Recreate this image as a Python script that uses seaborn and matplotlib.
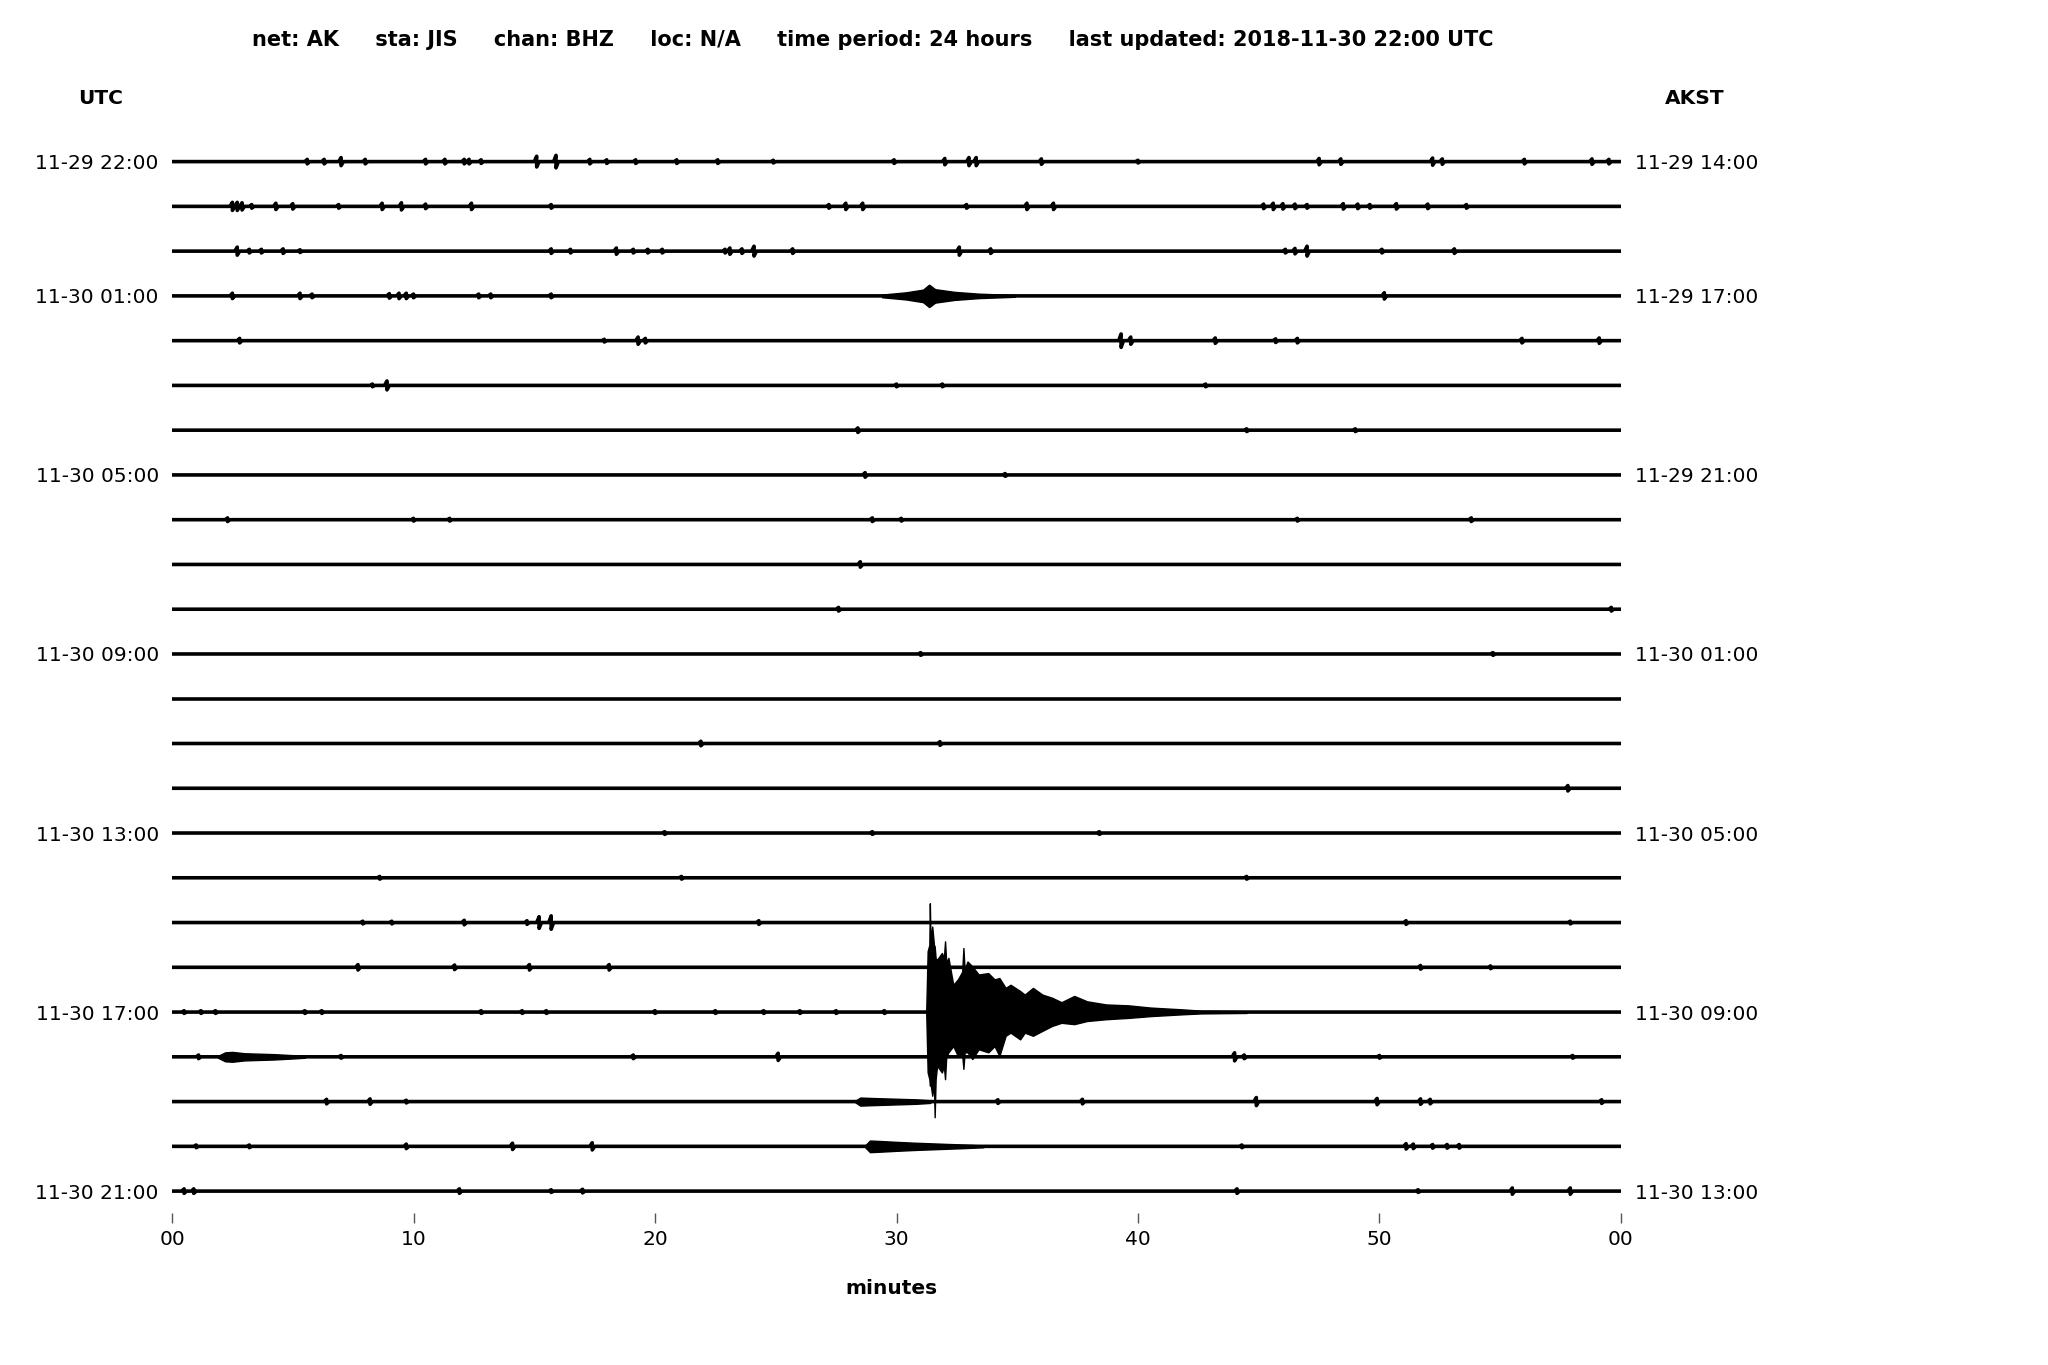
import matplotlib
matplotlib.use("Agg")
import matplotlib.pyplot as plt
import seaborn as sns
import pandas as pd
import numpy as np

# helicorder: 24 one-hour rows, amplitudes in units of row spacing
UTC_LABELS = ["11-29 22:00", "11-30 01:00", "11-30 05:00", "11-30 09:00",
              "11-30 13:00", "11-30 17:00", "11-30 21:00"]
AKST_LABELS = ["11-29 14:00", "11-29 17:00", "11-29 21:00", "11-30 01:00",
               "11-30 05:00", "11-30 09:00", "11-30 13:00"]
LABEL_ROWS = [0, 3, 7, 11, 15, 19, 23]
MINUTE_TICKS = [0, 10, 20, 30, 40, 50, 60]
MINUTE_LABELS = ["00", "10", "20", "30", "40", "50", "00"]

# small events per row: (minute, amplitude)
L00 = [(5.6, .05), (6.3, .05), (7.0, .09), (8.0, .05), (10.5, .05), (11.3, .05), (12.1, .05),
       (12.3, .05), (12.8, .04), (15.1, .12), (15.9, .14), (17.3, .05), (18.0, .04), (19.2, .04),
       (20.9, .04), (22.6, .04), (24.9, .03), (29.9, .04), (32.0, .07), (33.0, .09), (33.3, .09),
       (36.0, .06), (40.0, .03), (47.5, .07), (48.4, .06), (52.2, .08), (52.6, .06), (56.0, .05),
       (58.8, .06), (59.5, .05)]
L01 = [(2.5, .09), (2.7, .09), (2.9, .08), (3.3, .04), (4.3, .07), (5.0, .06), (6.9, .04),
       (8.7, .07), (9.5, .08), (10.5, .05), (12.4, .07), (15.7, .04), (27.2, .04), (27.9, .07),
       (28.6, .07), (32.9, .04), (35.4, .07), (36.5, .07), (45.2, .05), (45.6, .07), (46.0, .06),
       (46.5, .05), (47.0, .04), (48.5, .06), (49.1, .05), (49.6, .04), (50.7, .06), (52.0, .05),
       (53.6, .04)]
L02 = [(2.7, .09), (3.2, .04), (3.7, .04), (4.6, .05), (5.3, .03), (15.7, .05), (16.5, .04),
       (18.4, .07), (19.1, .04), (19.7, .04), (20.3, .04), (22.9, .04), (23.1, .07), (23.6, .05),
       (24.1, .11), (25.7, .05), (32.6, .09), (33.9, .05), (46.1, .04), (46.5, .06), (47.0, .11),
       (50.1, .04), (53.1, .05)]
L03 = [(2.5, .06), (5.3, .06), (5.8, .04), (9.0, .05), (9.4, .06), (9.7, .06), (10.0, .04),
       (12.7, .04), (13.2, .04), (15.7, .04), (50.2, .07)]
L04 = [(2.8, .05), (17.9, .03), (19.3, .08), (19.6, .05), (39.3, .15), (39.7, .08), (43.2, .06),
       (45.7, .04), (46.6, .05), (55.9, .05), (59.1, .06)]
L05 = [(8.3, .03), (8.9, .10), (30.0, .03), (31.9, .03), (42.8, .03)]
L06 = [(28.4, .05), (44.5, .03), (49.0, .03)]
L07 = [(28.7, .05), (34.5, .03)]
L08 = [(2.3, .04), (10.0, .03), (11.5, .03), (29.0, .04), (30.2, .03), (46.6, .03), (53.8, .04)]
L09 = [(28.5, .06)]
L10 = [(27.6, .04), (59.6, .04)]
L11 = [(31.0, .03), (54.7, .03)]
L12 = []
L13 = [(21.9, .05), (31.8, .04)]
L14 = [(57.8, .06)]
L15 = [(20.4, .03), (29.0, .03), (38.4, .03)]
L16 = [(8.6, .03), (21.1, .03), (44.5, .03)]
L17 = [(7.9, .03), (9.1, .03), (12.1, .05), (14.7, .04), (15.2, .13), (15.7, .15), (24.3, .04),
       (51.1, .04), (57.9, .03)]
L18 = [(7.7, .06), (11.7, .05), (14.8, .06), (18.1, .06), (51.7, .04), (54.6, .03)]
L19 = [(0.5, .03), (1.2, .03), (1.8, .03), (5.5, .03), (6.2, .03), (12.8, .03), (14.5, .03),
       (15.5, .03), (20.0, .03), (22.5, .03), (24.5, .03), (26.0, .03), (27.5, .03), (29.5, .03)]
L20 = [(1.1, .04), (7.0, .03), (19.1, .04), (25.1, .08), (44.0, .09), (44.4, .04), (50.0, .03),
       (58.0, .03)]
L21 = [(6.4, .05), (8.2, .06), (9.7, .03), (34.2, .04), (37.7, .05), (44.9, .09), (49.9, .07),
       (51.7, .06), (52.1, .05), (59.2, .04)]
L22 = [(1.0, .03), (3.2, .03), (9.7, .05), (14.1, .07), (17.4, .08), (44.3, .03), (51.1, .06),
       (51.4, .05), (52.2, .04), (52.8, .04), (53.3, .04)]
L23 = [(0.5, .05), (0.9, .05), (11.9, .05), (15.7, .03), (17.0, .04), (44.1, .05), (51.6, .03),
       (55.5, .07), (57.9, .07)]

# longer wave trains: envelope minutes / amplitudes
ENV03_MIN = [29.4, 30.4, 31.1, 31.35, 31.6, 32.4, 33.4, 34.9]
ENV03_AMP = [0.03, 0.08, 0.14, 0.25, 0.15, 0.09, 0.05, 0.02]
ENV20_MIN = [1.9, 2.2, 2.5, 3.0, 3.6, 4.2, 4.9, 5.5]
ENV20_AMP = [0.02, 0.10, 0.11, 0.08, 0.07, 0.06, 0.04, 0.02]
ENV21_MIN = [28.3, 28.5, 29.0, 29.6, 30.2, 30.8, 31.4]
ENV21_AMP = [0.02, 0.09, 0.08, 0.07, 0.06, 0.05, 0.03]
ENV22_MIN = [28.7, 28.9, 29.3, 30.0, 30.8, 31.8, 32.8, 33.6]
ENV22_AMP = [0.02, 0.13, 0.12, 0.10, 0.08, 0.06, 0.04, 0.02]

# main earthquake on the 17:00 row
QUAKE_MIN = [31.23, 31.29, 31.36, 31.38, 31.41, 31.48, 31.55, 31.58, 31.62, 31.68,
             31.88, 31.96, 32.01, 32.06, 32.15, 32.35, 32.54, 32.72, 32.77, 32.82,
             32.94, 33.14, 33.40, 33.80, 34.06, 34.26, 34.52, 34.72, 35.12, 35.31,
             35.65, 36.04, 36.44, 36.83, 37.36, 37.89, 38.68, 39.61, 40.53, 41.85,
             42.64, 44.5]
QUAKE_UP = [0.0, 1.36, 1.5, 2.43, 1.6, 1.91, 1.5, 1.47, 1.2, 1.17,
            1.32, 1.2, 1.58, 1.1, 1.21, 0.61, 0.73, 0.9, 1.43, 0.95,
            1.13, 1.02, 0.84, 0.87, 0.73, 0.76, 0.54, 0.61, 0.47, 0.39,
            0.54, 0.39, 0.32, 0.22, 0.36, 0.24, 0.17, 0.15, 0.10, 0.06,
            0.03, 0.02]
QUAKE_DOWN = [0.0, 1.35, 1.5, 1.64, 1.6, 1.87, 1.6, 2.35, 1.5, 1.2,
              1.35, 1.2, 1.5, 1.0, 0.9, 0.76, 0.98, 0.95, 1.27, 0.9,
              0.9, 1.05, 0.83, 0.9, 0.76, 0.98, 0.53, 0.46, 0.61, 0.46,
              0.53, 0.42, 0.31, 0.24, 0.27, 0.20, 0.16, 0.13, 0.09, 0.05,
              0.03, 0.02]

ROWS = [L00, L01, L02, L03, L04, L05, L06, L07, L08, L09, L10, L11,
        L12, L13, L14, L15, L16, L17, L18, L19, L20, L21, L22, L23]

TITLE = ("net: AK     sta: JIS     chan: BHZ     loc: N/A     "
         "time period: 24 hours     last updated: 2018-11-30 22:00 UTC")


def build_traces():
    records = []
    for row, events in enumerate(ROWS):
        pts = [(0.0, 0.0)]
        for m, a in sorted(events):
            pts += [(m - 0.1, 0.0), (m, a), (m, -a), (m + 0.1, 0.0)]
        pts.append((60.0, 0.0))
        for m, v in pts:
            records.append({"row": row, "minute": m, "y": v - row})
    return pd.DataFrame(records)


def main():
    sns.set_theme(style="white")
    plt.rcParams["font.family"] = ["DejaVu Sans"]
    plt.rcParams["text.color"] = "black"
    plt.rcParams["xtick.color"] = "black"
    plt.rcParams["ytick.color"] = "black"

    fig = plt.figure(figsize=(20.48, 13.65), dpi=100)
    ax = fig.add_axes([0.084, 0.111, 0.7075, 0.787])

    traces = build_traces()
    sns.lineplot(data=traces, x="minute", y="y", units="row", estimator=None,
                 sort=False, color="black", linewidth=2.6, ax=ax, legend=False)

    for row, mins, amps in [(3, ENV03_MIN, ENV03_AMP), (20, ENV20_MIN, ENV20_AMP),
                            (21, ENV21_MIN, ENV21_AMP), (22, ENV22_MIN, ENV22_AMP)]:
        amps = np.array(amps)
        ax.fill_between(mins, -row + amps, -row - amps, color="black", linewidth=1.0)

    ax.fill_between(QUAKE_MIN, -19 + np.array(QUAKE_UP), -19 - np.array(QUAKE_DOWN),
                    color="black", linewidth=1.0)

    ax.set_xlim(0, 60)
    ax.set_ylim(-23.5, 0.5)
    for s in ax.spines.values():
        s.set_visible(False)

    ax.set_xticks(MINUTE_TICKS)
    ax.set_xticklabels(MINUTE_LABELS, fontsize=14.5)
    ax.tick_params(axis="x", bottom=True, length=7, width=1, color="#555555", pad=5)
    ax.set_yticks([-r for r in LABEL_ROWS])
    ax.set_yticklabels(UTC_LABELS, fontsize=14.5)
    ax.tick_params(axis="y", left=False, length=0, pad=9.5)
    ax.set_xlabel("")
    ax.set_ylabel("")

    ax2 = ax.twinx()
    ax2.set_ylim(ax.get_ylim())
    ax2.set_yticks([-r for r in LABEL_ROWS])
    ax2.set_yticklabels(AKST_LABELS, fontsize=14.5)
    ax2.tick_params(axis="y", right=False, length=0, pad=10)
    for s in ax2.spines.values():
        s.set_visible(False)

    fig.text(0.4263, 0.971, TITLE, ha="center", va="center", fontsize=15, fontweight="bold")
    fig.text(101 / 2048, 1 - 99 / 1365, "UTC", ha="center", va="center",
             fontsize=14.5, fontweight="bold")
    fig.text(1695 / 2048, 1 - 99 / 1365, "AKST", ha="center", va="center",
             fontsize=14.5, fontweight="bold")
    fig.text(891 / 2048, 1 - 1289 / 1365, "minutes", ha="center", va="center",
             fontsize=14.5, fontweight="bold")

    fig.savefig("out.png", dpi=100, facecolor="white")
    plt.close(fig)


if __name__ == "__main__":
    main()
